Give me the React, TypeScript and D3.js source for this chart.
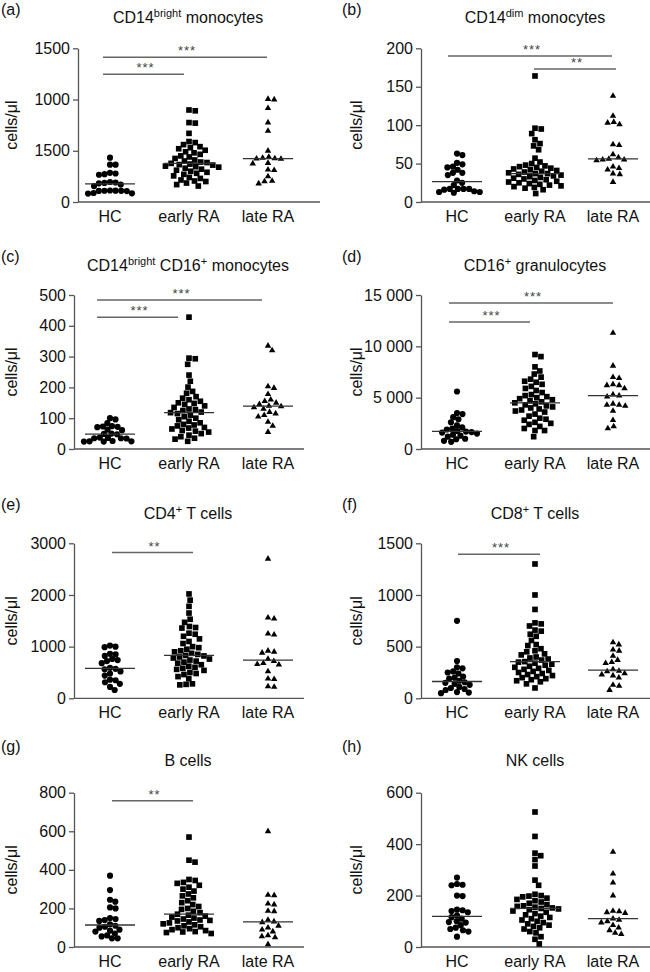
import React, { useEffect, useRef } from 'react';
import * as d3 from 'd3';

// ---------------- DATA ----------------
const categories = ['HC', 'early RA', 'late RA'];

const aHC = [433, 364, 364, 285, 278, 272, 266, 195, 190, 186, 182, 170, 155, 112, 111, 110, 109, 108, 107, 88, 85, 82];
const aEarly = [898, 890, 775, 770, 670, 590, 580, 560, 540, 530, 520, 505, 490, 480, 465, 450, 440, 425, 410, 400, 390, 385, 377, 370, 365, 360, 350, 345, 340, 330, 320, 310, 300, 290, 280, 270, 255, 240, 230, 215, 205, 200, 185, 170, 156];
const aLate = [1005, 1000, 915, 775, 693, 500, 440, 430, 425, 423, 420, 380, 375, 315, 310, 250, 205, 200, 180];

const bHC = [63, 61, 51, 49, 46, 45, 42, 38, 38, 35, 28, 25, 22, 17, 17, 17, 17, 16, 14, 13, 13, 12];
const bEarly = [164, 96, 95, 89, 81, 76, 73, 68, 57, 52, 50, 48, 47, 46, 45, 44, 43, 42, 41, 40, 39, 38, 37, 37, 36, 35, 34, 33, 32, 31, 30, 29, 28, 27, 26, 25, 24, 23, 22, 21, 20, 19, 18, 16, 11];
const bLate = [138, 112, 104, 103, 101, 75, 74, 62, 58, 56, 55, 55, 54, 46, 44, 42, 37, 36, 26];

const cHC = [100, 96, 84, 74, 73, 72, 71, 63, 61, 50, 49, 48, 37, 36, 35, 35, 34, 26, 25, 25, 24, 24];
const cEarly = [428, 295, 293, 275, 240, 220, 201, 187, 181, 170, 165, 160, 155, 150, 148, 145, 140, 135, 130, 128, 125, 120, 118, 115, 110, 105, 100, 95, 90, 85, 80, 78, 75, 70, 68, 65, 60, 58, 55, 50, 45, 40, 35, 32, 25];
const cLate = [335, 320, 203, 198, 178, 160, 155, 150, 145, 140, 138, 135, 130, 120, 115, 110, 105, 88, 75, 55];

const dHC = [5600, 3500, 3400, 3100, 2900, 2600, 2300, 2100, 2000, 1900, 1750, 1700, 1650, 1600, 1500, 1400, 1300, 1200, 1000, 950, 800, 700];
const dEarly = [9200, 9000, 8000, 7600, 7300, 7000, 6800, 6600, 6500, 6300, 6100, 5900, 5700, 5500, 5300, 5200, 5100, 5000, 4900, 4800, 4700, 4600, 4500, 4400, 4300, 4200, 4100, 4000, 3900, 3800, 3700, 3600, 3400, 3200, 3000, 2900, 2800, 2600, 2500, 2400, 2200, 2000, 1800, 1800, 1200];
const dLate = [11300, 8100, 7000, 6900, 6300, 6200, 6200, 5900, 5300, 5200, 5100, 4400, 4300, 4300, 4200, 3700, 2800, 2200, 2000];

const eHC = [1020, 1000, 990, 860, 850, 820, 760, 740, 720, 680, 590, 570, 560, 520, 480, 440, 360, 350, 310, 280, 220, 160];
const eEarly = [2020, 1900, 1780, 1650, 1530, 1470, 1390, 1370, 1360, 1260, 1240, 1200, 1150, 1100, 1060, 1000, 980, 950, 920, 900, 870, 850, 830, 820, 800, 780, 760, 740, 720, 700, 680, 650, 620, 600, 580, 560, 540, 500, 480, 460, 420, 380, 280, 270, 260];
const eLate = [2700, 1560, 1540, 1250, 1230, 920, 900, 880, 760, 720, 680, 660, 650, 520, 380, 370, 230, 220];

const fHC = [750, 360, 300, 290, 260, 250, 240, 210, 200, 190, 170, 155, 150, 140, 130, 110, 100, 90, 80, 60, 55, 50];
const fEarly = [1300, 1000, 860, 730, 720, 700, 660, 650, 620, 600, 560, 520, 510, 480, 460, 450, 430, 420, 400, 390, 380, 370, 355, 350, 340, 330, 320, 310, 300, 290, 280, 270, 260, 250, 240, 230, 220, 210, 200, 190, 180, 170, 160, 140, 100];
const fLate = [540, 520, 470, 460, 410, 370, 350, 340, 280, 265, 260, 240, 230, 220, 200, 130, 120, 80];

const gHC = [370, 295, 245, 235, 205, 200, 150, 145, 140, 135, 118, 110, 105, 100, 90, 85, 80, 70, 60, 55, 45, 45];
const gEarly = [570, 450, 440, 350, 345, 335, 330, 320, 310, 300, 290, 275, 265, 255, 240, 230, 220, 210, 200, 195, 185, 178, 170, 165, 160, 155, 150, 145, 140, 138, 135, 130, 125, 120, 115, 110, 105, 100, 95, 90, 85, 80, 78, 75, 70];
const gLate = [600, 270, 268, 225, 220, 187, 185, 140, 132, 128, 110, 100, 90, 80, 60, 55, 50, 14];

const hHC = [270, 245, 242, 240, 200, 198, 145, 143, 140, 135, 122, 116, 110, 100, 97, 95, 85, 75, 70, 65, 60, 40];
const hEarly = [525, 430, 365, 355, 340, 315, 260, 240, 205, 200, 198, 195, 190, 185, 180, 175, 170, 165, 160, 158, 155, 152, 150, 148, 145, 140, 135, 130, 125, 120, 115, 110, 105, 100, 95, 90, 85, 80, 75, 70, 60, 55, 40, 30, 12];
const hLate = [370, 285, 250, 200, 140, 138, 135, 132, 110, 105, 100, 95, 85, 75, 65, 55, 50];

const ticksA = [0, 500, 1000, 1500];
const tickLabelsA = ['0', '1500', '1000', '1500'];
const ticksB = [0, 50, 100, 150, 200];
const ticksC = [0, 100, 200, 300, 400, 500];
const ticksD = [0, 5000, 10000, 15000];
const tickLabelsD = ['0', '5 000', '10 000', '15 000'];
const ticksE = [0, 1000, 2000, 3000];
const ticksF = [0, 500, 1000, 1500];
const ticksG = [0, 200, 400, 600, 800];
const ticksH = [0, 200, 400, 600];

type Seg = { t: string; sup?: boolean };
const titleA: Seg[] = [{ t: 'CD14' }, { t: 'bright', sup: true }, { t: ' monocytes' }];
const titleB: Seg[] = [{ t: 'CD14' }, { t: 'dim', sup: true }, { t: ' monocytes' }];
const titleC: Seg[] = [{ t: 'CD14' }, { t: 'bright', sup: true }, { t: ' CD16' }, { t: '+', sup: true }, { t: ' monocytes' }];
const titleD: Seg[] = [{ t: 'CD16' }, { t: '+', sup: true }, { t: ' granulocytes' }];
const titleE: Seg[] = [{ t: 'CD4' }, { t: '+', sup: true }, { t: ' T cells' }];
const titleF: Seg[] = [{ t: 'CD8' }, { t: '+', sup: true }, { t: ' T cells' }];
const titleG: Seg[] = [{ t: 'B cells' }];
const titleH: Seg[] = [{ t: 'NK cells' }];

type Sig = { from: number; to: number; value: number; label: string };
const sigA: Sig[] = [{ from: 0, to: 2, value: 1412, label: '***' }, { from: 0, to: 1, value: 1247, label: '***' }];
const sigB: Sig[] = [{ from: 0, to: 2, value: 190, label: '***' }, { from: 1, to: 2, value: 173, label: '**' }];
const sigC: Sig[] = [{ from: 0, to: 2, value: 484, label: '***' }, { from: 0, to: 1, value: 428, label: '***' }];
const sigD: Sig[] = [{ from: 0, to: 2, value: 14216, label: '***' }, { from: 0, to: 1, value: 12382, label: '***' }];
const sigE: Sig[] = [{ from: 0, to: 1, value: 2820, label: '**' }];
const sigF: Sig[] = [{ from: 0, to: 1, value: 1394, label: '***' }];
const sigG: Sig[] = [{ from: 0, to: 1, value: 758, label: '**' }];
const sigH: Sig[] = [];

// ---------------- LAYOUT ----------------
const FONT = "'Liberation Sans', Arial, Helvetica, sans-serif";
const ROW_TOP = [48.3, 295, 543.3, 792.7];
const ROW_BOTTOM = [202, 449, 698.3, 947];
const LABEL_Y = [15, 262, 510, 752];
const TITLE_Y = [23, 271, 519, 766];
// per-bar [start, end] pixel insets relative to category centres
const BAR_INSETS: Record<string, number[][]> = {
  '(a)': [[-7, -1], [-7, -5]],
  '(b)': [[-9, -1], [-1, 3]],
  '(c)': [[-13, -6], [-13, -11]],
  '(d)': [[-8, 0], [-8, -5]],
  '(e)': [[2, 4]],
  '(f)': [[1, 5]],
  '(g)': [[2, 4]],
  '(h)': [],
};

const panels = [
  { id: '(a)', col: 0, row: 0, title: titleA, groups: [aHC, aEarly, aLate], max: 1500, ticks: ticksA, tickLabels: tickLabelsA, sig: sigA },
  { id: '(b)', col: 1, row: 0, title: titleB, groups: [bHC, bEarly, bLate], max: 200, ticks: ticksB, tickLabels: null, sig: sigB },
  { id: '(c)', col: 0, row: 1, title: titleC, groups: [cHC, cEarly, cLate], max: 500, ticks: ticksC, tickLabels: null, sig: sigC },
  { id: '(d)', col: 1, row: 1, title: titleD, groups: [dHC, dEarly, dLate], max: 15000, ticks: ticksD, tickLabels: tickLabelsD, sig: sigD },
  { id: '(e)', col: 0, row: 2, title: titleE, groups: [eHC, eEarly, eLate], max: 3000, ticks: ticksE, tickLabels: null, sig: sigE },
  { id: '(f)', col: 1, row: 2, title: titleF, groups: [fHC, fEarly, fLate], max: 1500, ticks: ticksF, tickLabels: null, sig: sigF },
  { id: '(g)', col: 0, row: 3, title: titleG, groups: [gHC, gEarly, gLate], max: 800, ticks: ticksG, tickLabels: null, sig: sigG },
  { id: '(h)', col: 1, row: 3, title: titleH, groups: [hHC, hEarly, hLate], max: 600, ticks: ticksH, tickLabels: null, sig: sigH },
];

type Placed = { v: number; y: number; dx: number };

function swarm(vals: number[], y: d3.ScaleLinear<number, number>, D: number): Placed[] {
  const sorted = [...vals].sort((a, b) => b - a);
  const placed: Placed[] = [];
  for (const v of sorted) {
    const py = y(v);
    const near = placed.filter((p) => Math.abs(p.y - py) < D);
    const ivs = near.map((p) => {
      const w = Math.sqrt(D * D - (p.y - py) * (p.y - py));
      return [p.dx - w, p.dx + w];
    });
    const cands = [0, ...ivs.flat()];
    const bias = d3.sum(near, (p) => p.dx);
    let best: number | null = null;
    for (const c of cands) {
      if (ivs.some((iv) => c > iv[0] + 1e-6 && c < iv[1] - 1e-6)) continue;
      if (best === null) { best = c; continue; }
      const a = Math.abs(c), b = Math.abs(best);
      if (a < b - 1e-6) best = c;
      else if (Math.abs(a - b) < 1e-6 && c !== best) {
        if (bias > 0 ? c < best : c > best) best = c;
      }
    }
    placed.push({ v, y: py, dx: best ?? 0 });
  }
  return placed;
}

const AX = '#555';
const shapes = [d3.symbolCircle, d3.symbolSquare, d3.symbolTriangle];
const sizes = [30, 32, 18];
const SPACING = [5.6, 6.3, 6.2];

function drawPanel(svg: d3.Selection<SVGSVGElement, unknown, null, undefined>, p: typeof panels[number]) {
  const left = p.col === 0;
  const axisX = left ? (p.row === 0 ? 78 : 74) : 421;
  const xEnd = left ? (p.row === 0 ? 320 : 304) : 650;
  const yTop = ROW_TOP[p.row];
  const yBottom = ROW_BOTTOM[p.row];
  const y = d3.scaleLinear().domain([0, p.max]).range([yBottom, yTop]);
  const x = d3.scalePoint<string>().domain(categories).range(left ? [110, 268] : [457, 613]);
  const g = svg.append('g').attr('font-family', FONT).attr('fill', '#111');

  g.append('text').attr('x', left ? 1 : 342).attr('y', LABEL_Y[p.row]).attr('font-size', 16).text(p.id);

  const t = g.append('text').attr('x', left ? 188 : 535).attr('y', TITLE_Y[p.row]).attr('text-anchor', 'middle').attr('font-size', 16);
  let prevSup = false;
  p.title.forEach((seg) => {
    const ts = t.append('tspan').text(seg.t);
    if (seg.sup) ts.attr('font-size', 11).attr('dy', -6);
    else if (prevSup) ts.attr('dy', 6);
    prevSup = !!seg.sup;
  });

  const labels = p.tickLabels;
  const ax = d3.axisLeft(y).tickValues(p.ticks).tickSize(5).tickSizeOuter(0).tickPadding(3)
    .tickFormat((d, i) => (labels ? labels[i] : String(d)));
  const axG = g.append('g').attr('transform', `translate(${axisX},0)`).call(ax as any);
  axG.attr('font-size', 16).attr('font-family', FONT);
  axG.select('.domain').attr('stroke', AX).attr('stroke-width', 1.3);
  axG.selectAll('.tick line').attr('stroke', AX).attr('stroke-width', 1.3);
  axG.selectAll('.tick text').attr('fill', '#111');

  g.append('line').attr('x1', axisX).attr('x2', xEnd).attr('y1', yBottom).attr('y2', yBottom).attr('stroke', AX).attr('stroke-width', 1.3);

  categories.forEach((c) => {
    g.append('text').attr('x', x(c)!).attr('y', yBottom + 20).attr('text-anchor', 'middle').attr('font-size', 16).text(c);
  });

  g.append('text')
    .attr('transform', `translate(${left ? 17 : 362},${(yTop + yBottom) / 2}) rotate(-90)`)
    .attr('text-anchor', 'middle').attr('font-size', 16).text('cells/μl');

  p.groups.forEach((vals, gi) => {
    const cx = x(categories[gi])!;
    const pts = swarm(vals, y, SPACING[gi]);
    const path = d3.symbol(shapes[gi], sizes[gi])()!;
    g.append('g').selectAll('path').data(pts).join('path')
      .attr('d', path)
      .attr('transform', (d) => `translate(${cx + d.dx},${d.y})`)
      .attr('fill', '#000');
    const med = d3.median(vals)!;
    g.append('line').attr('x1', cx - 25).attr('x2', cx + 25).attr('y1', y(med)).attr('y2', y(med))
      .attr('stroke', '#333').attr('stroke-width', 1.3);
  });

  const insets = BAR_INSETS[p.id];
  p.sig.forEach((s, i) => {
    const x1 = x(categories[s.from])! + insets[i][0];
    const x2 = x(categories[s.to])! + insets[i][1];
    const by = y(s.value);
    g.append('line').attr('x1', x1).attr('x2', x2).attr('y1', by).attr('y2', by).attr('stroke', '#666').attr('stroke-width', 1.5);
    g.append('text').attr('x', (x1 + x2) / 2 + 2).attr('y', by - 2).attr('text-anchor', 'middle')
      .attr('font-size', 13).attr('letter-spacing', 1).attr('fill', '#444').text(s.label);
  });
}

export default function App() {
  const ref = useRef<SVGSVGElement>(null);
  useEffect(() => {
    const svg = d3.select(ref.current!);
    svg.selectAll('*').remove();
    panels.forEach((p) => drawPanel(svg as any, p));
  }, []);
  return (
    <svg ref={ref} width={650} height={972}
      style={{ position: 'absolute', left: 0, top: 0, background: '#fff' }} />
  );
}
